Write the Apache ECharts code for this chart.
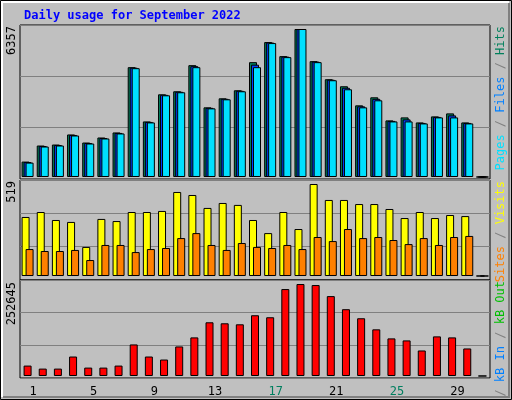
<!DOCTYPE html>
<html><head><meta charset="utf-8">
<script src="https://cdn.jsdelivr.net/npm/echarts@6/dist/echarts.min.js"></script>
<style>html,body{margin:0;padding:0;background:#c0c0c0}#c{width:512px;height:400px}</style>
</head><body><div id="c"></div>
<script>
const days = ['1','2','3','4','5','6','7','8','9','10','11','12','13','14','15','16','17','18','19','20','21','22','23','24','25','26','27','28','29','30','31'];
const weekend = ['3','4','10','11','17','18','24','25','31'];
const hits  = [662,1352,1395,1827,1481,1697,1913,4717,2387,3552,3682,4804,2992,3380,3725,4933,5796,5192,6357,4976,4200,3898,3078,3423,2431,2560,2344,2603,2732,2344,0];
const files = [640,1330,1373,1805,1460,1675,1892,4695,2365,3530,3660,4760,2970,3358,3703,4825,5775,5170,6357,4955,4178,3833,3035,3358,2409,2474,2322,2581,2646,2322,0];
const pages = [618,1309,1352,1783,1438,1654,1870,4674,2344,3509,3639,4717,2948,3337,3682,4717,5753,5149,6357,4933,4156,3768,2992,3294,2387,2387,2301,2560,2560,2301,0];
const visits = [333,361,316,305,164,322,310,361,361,367,474,457,384,412,401,316,242,361,265,519,429,429,406,406,378,327,361,327,344,338,0];
const sites  = [152,141,141,147,90,175,175,135,152,158,214,242,175,147,186,164,158,175,152,220,197,265,214,220,203,180,214,175,220,226,0];
const kbF = [28584,20285,20285,53480,23052,23052,28584,86673,53480,45181,81140,106035,147530,144764,141998,166894,161361,238815,252645,249879,219451,183490,158595,128167,103269,97737,70076,108801,106035,75608,0];
const maxLabels = ['6357','519','252645'];

const chart = echarts.init(document.getElementById('c'));
const mono = 'DejaVu Sans Mono';
const panels = [{top:25,h:154,min:-86,max:6529},{top:180,h:100,min:-22.6,max:541.6},{top:280,h:98,min:-5532,max:263709}];
const grids = panels.map(p=>({left:20,width:470,top:p.top,height:p.h,show:true,backgroundColor:'#c0c0c0',borderColor:'#000',borderWidth:1}));
const xAxes = panels.map((p,i)=>({type:'category',gridIndex:i,data:days,axisLine:{show:false},axisTick:{show:false},
  axisLabel:i===2?{show:true,margin:8,padding:[0,0,0,11],fontFamily:mono,fontSize:12,
    formatter:v=>weekend.includes(v)?'{w|'+v+'}':'{n|'+v+'}',rich:{w:{color:'#007f5f',fontFamily:mono,fontSize:12},n:{color:'#000',fontFamily:mono,fontSize:12}}}:{show:false}}));
const yAxes = [];
panels.forEach((p,i)=>{
  yAxes.push({type:'value',gridIndex:i,min:p.min,max:p.max,axisLabel:{show:false},axisLine:{show:false},axisTick:{show:false},splitLine:{show:false}});
});
panels.forEach((p,i)=>{
  yAxes.push({type:'value',gridIndex:i,min:0,max:3,interval:1,axisLabel:{show:false},axisLine:{show:false},axisTick:{show:false},splitLine:{show:true,lineStyle:{color:'#808080',width:1}}});
});
const bar = (name,data,xi,color,w,gap)=>({name,type:'bar',data,xAxisIndex:xi,yAxisIndex:xi,barWidth:w,barGap:gap,
  itemStyle:{color,borderColor:'#000',borderWidth:1},silent:true,animation:false});
const series = [
  bar('Hits',hits,0,'#00805c',8,'-75%'),
  bar('Files',files,0,'#0040ff',8,'-75%'),
  bar('Pages',pages,0,'#00e0ff',8,'-75%'),
  bar('Visits',visits,1,'#ffff00',8,'-50%'),
  bar('Sites',sites,1,'#ff8000',8,'-50%'),
  bar('kB F',kbF,2,'#ff0000',8,'0%')
];
const rt = (x,y,parts)=>({type:'text',x,y,rotation:Math.PI/2,style:{text:parts.map(p=>'{'+p[1]+'|'+p[0]+'}').join(''),
  fontFamily:mono,fontSize:12,align:'right',verticalAlign:'top',
  rich:Object.fromEntries(parts.map(p=>[p[1],{fill:p[2],fontFamily:mono,fontSize:12}]))}});
const lt = (x,y,t)=>({type:'text',x,y,rotation:Math.PI/2,style:{text:t,fontFamily:mono,fontSize:12,fill:'#000',align:'right',verticalAlign:'top'}});
chart.setOption({
  animation:false,
  title:{text:'Daily usage for September 2022',left:19,top:5,textStyle:{fontFamily:mono,fontSize:12,fontWeight:'bold',color:'#0000ff'}},
  grid:grids,xAxis:xAxes,yAxis:yAxes,series,
  graphic:[
    {type:'rect',shape:{x:0.5,y:0.5,width:511,height:399},style:{fill:'none',stroke:'#000',lineWidth:1},z:-1},
    {type:'polyline',shape:{points:[[2,397],[2,2],[509,2]]},style:{stroke:'#fff',fill:'none',lineWidth:2},z:-1},
    {type:'polyline',shape:{points:[[3,397],[509,397],[509,3]]},style:{stroke:'#808080',fill:'none',lineWidth:2},z:-1},
    lt(6,26,maxLabels[0]),lt(6,181,maxLabels[1]),lt(6,282,maxLabels[2]),
    rt(495,26,[['Pages','a','#00e0ff'],[' / ','s','#808080'],['Files','b','#0080ff'],[' / ','t','#808080'],['Hits','c','#00805c']]),
    rt(495,181,[['Sites','a','#ff8000'],[' / ','s','#808080'],['Visits','b','#ffff00']]),
    rt(495,281,[['kB F','a','#ff0000'],[' / ','s','#808080'],['kB In','b','#0080ff'],[' / ','t','#808080'],['kB Out','c','#00c000']])
  ]
});
</script></body></html>
